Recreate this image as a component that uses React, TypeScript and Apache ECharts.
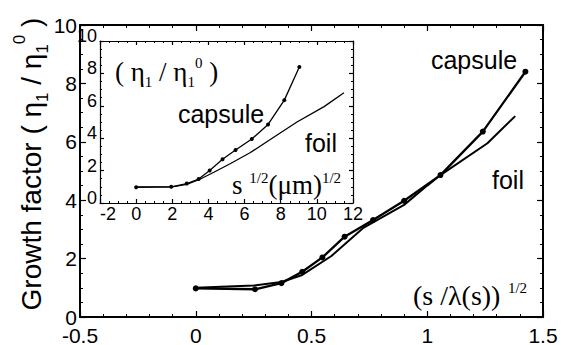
import React, { useEffect, useRef } from "react";
import * as echarts from "echarts";

// ---- data ----
const mainCapsuleX = [0, 0.256, 0.37, 0.46, 0.547, 0.643, 0.766, 0.9, 1.057, 1.24, 1.424];
const mainCapsuleY = [0.98, 0.95, 1.16, 1.55, 2.04, 2.75, 3.32, 3.98, 4.86, 6.35, 8.4];
const mainFoilX = [0, 0.25, 0.37, 0.46, 0.586, 0.722, 0.9, 1.0, 1.057, 1.26, 1.38];
const mainFoilY = [1.0, 1.08, 1.2, 1.44, 2.09, 3.04, 3.84, 4.5, 4.86, 5.95, 6.88];

const insetCapsuleX = [0, 1.94, 2.8, 3.46, 4.07, 4.78, 5.5, 6.4, 7.3, 8.2, 9.03];
const insetCapsuleY = [0.97, 1.0, 1.2, 1.48, 2.0, 2.7, 3.27, 3.95, 4.85, 6.35, 8.4];
const insetFoilX = [0, 2, 2.8, 3.5, 4.3, 5.2, 6.3, 7.4, 8.9, 10.4, 11.5];
const insetFoilY = [1.0, 1.0, 1.15, 1.45, 1.9, 2.42, 3.1, 3.9, 5.0, 5.95, 6.8];

const SANS = '"Liberation Sans", Arial, Helvetica, sans-serif';
const SERIF = '"Liberation Serif", "Times New Roman", serif';

const pairs = (xs: number[], ys: number[]) => xs.map((x, i) => [x, ys[i]]);

function axis(
  gridIndex: number,
  position: string,
  min: number,
  max: number,
  interval: number,
  minorSplit: number,
  showLabel: boolean,
  fontSize: number,
  margin: number,
  tickLen: number,
  minorLen: number,
  lineWidth: number,
  labelExtra: any = {}
): any {
  return {
    type: "value",
    gridIndex,
    position,
    min,
    max,
    interval,
    axisLine: { show: true, onZero: false, lineStyle: { color: "#000", width: lineWidth } },
    axisTick: { show: true, inside: true, length: tickLen, lineStyle: { color: "#000", width: 1.2 } },
    minorTick: { show: true, splitNumber: minorSplit, length: minorLen, lineStyle: { color: "#000", width: 1 } },
    axisLabel: {
      show: showLabel,
      color: "#000",
      fontSize,
      fontFamily: SANS,
      margin,
      showMinLabel: true,
      showMaxLabel: true,
      ...labelExtra,
    },
    splitLine: { show: false },
    minorSplitLine: { show: false },
  };
}

export default function App() {
  const ref = useRef<HTMLDivElement>(null);
  useEffect(() => {
    if (!ref.current) return;
    const chart = echarts.init(ref.current, undefined, { renderer: "svg" });
    const option: any = {
      animation: false,
      backgroundColor: "#fff",
      grid: [
        { left: 80, top: 25, width: 463, height: 292, containLabel: false, outerBoundsMode: "none" },
        { left: 100, top: 41, width: 253, height: 162, containLabel: false, outerBoundsMode: "none" },
      ],
      xAxis: [
        axis(0, "bottom", -0.5, 1.5, 0.5, 5, true, 21, 9, 6, 3, 2, { lineHeight: 18 }),
        axis(0, "top", -0.5, 1.5, 0.5, 5, false, 21, 6, 6, 3, 2),
        axis(1, "bottom", -2, 12, 2, 4, true, 18, 2, 4, 2, 1.2, { lineHeight: 18, alignMinLabel: "left" }),
        axis(1, "top", -2, 12, 2, 4, false, 18, 2, 4, 2, 1.2),
      ],
      yAxis: [
        axis(0, "left", 0, 10, 2, 4, true, 21, 3, 6, 3, 2, { lineHeight: 18 }),
        axis(0, "right", 0, 10, 2, 4, false, 21, 3, 6, 3, 2),
        axis(1, "left", 0, 10, 2, 4, true, 18, 3, 4, 2, 1.2, { lineHeight: 10, verticalAlign: "bottom" }),
        axis(1, "right", 0, 10, 2, 4, false, 18, 3, 4, 2, 1.2),
      ],
      series: [
        {
          type: "line",
          name: "foil",
          xAxisIndex: 0,
          yAxisIndex: 0,
          data: pairs(mainFoilX, mainFoilY),
          symbol: "none",
          lineStyle: { color: "#000", width: 2 },
          z: 2,
        },
        {
          type: "line",
          name: "capsule",
          xAxisIndex: 0,
          yAxisIndex: 0,
          data: pairs(mainCapsuleX, mainCapsuleY),
          symbol: "circle",
          symbolSize: 6,
          showAllSymbol: true,
          itemStyle: { color: "#000" },
          lineStyle: { color: "#000", width: 2.3 },
          z: 3,
        },
        {
          type: "line",
          name: "foil inset",
          xAxisIndex: 2,
          yAxisIndex: 2,
          data: pairs(insetFoilX, insetFoilY),
          symbol: "none",
          lineStyle: { color: "#000", width: 1.3 },
          z: 2,
        },
        {
          type: "line",
          name: "capsule inset",
          xAxisIndex: 2,
          yAxisIndex: 2,
          data: pairs(insetCapsuleX, insetCapsuleY),
          symbol: "circle",
          symbolSize: 4,
          showAllSymbol: true,
          itemStyle: { color: "#000" },
          lineStyle: { color: "#000", width: 1.3 },
          z: 3,
        },
      ],
      graphic: [
        {
          type: "text",
          x: 31,
          y: 164,
          rotation: Math.PI / 2,
          style: {
            text: "{a|Growth factor ( η}{sub|1}{a| / η}{sub|1}{sup|0}{a| )}",
            align: "center",
            verticalAlign: "middle",
            fill: "#000",
            rich: {
              a: { fontSize: 28, fontFamily: SANS, lineHeight: 40, verticalAlign: "middle", fill: "#000" },
              sub: { fontSize: 17, fontFamily: SANS, lineHeight: 40, verticalAlign: "bottom", fill: "#000" },
              sup: { fontSize: 17, fontFamily: SANS, lineHeight: 40, verticalAlign: "top", fill: "#000" },
            },
          },
        },
        {
          type: "text",
          x: 474,
          y: 60,
          style: { text: "capsule", font: `25px ${SANS}`, fill: "#000", align: "center", verticalAlign: "middle" },
        },
        {
          type: "text",
          x: 508,
          y: 180,
          style: { text: "foil", font: `25px ${SANS}`, fill: "#000", align: "center", verticalAlign: "middle" },
        },
        {
          type: "text",
          x: 413,
          y: 295,
          style: {
            text: "{a|(s /λ(s))}{sup|  1/2}",
            align: "left",
            verticalAlign: "middle",
            fill: "#000",
            rich: {
              a: { fontSize: 28, fontFamily: SERIF, lineHeight: 30, verticalAlign: "middle", fill: "#000" },
              sup: { fontSize: 15, fontFamily: SERIF, lineHeight: 30, verticalAlign: "top", fill: "#000" },
            },
          },
        },
        {
          type: "text",
          x: 115,
          y: 72,
          style: {
            text: "{a|( η}{sub|1}{a| / η}{sub|1}{sup|0}{a| )}",
            align: "left",
            verticalAlign: "middle",
            fill: "#000",
            rich: {
              a: { fontSize: 27, fontFamily: SERIF, lineHeight: 34, verticalAlign: "middle", fill: "#000" },
              sub: { fontSize: 15, fontFamily: SERIF, lineHeight: 34, verticalAlign: "bottom", fill: "#000" },
              sup: { fontSize: 15, fontFamily: SERIF, lineHeight: 34, verticalAlign: "top", fill: "#000" },
            },
          },
        },
        {
          type: "text",
          x: 221,
          y: 114,
          style: { text: "capsule", font: `25px ${SANS}`, fill: "#000", align: "center", verticalAlign: "middle" },
        },
        {
          type: "text",
          x: 321,
          y: 143,
          style: { text: "foil", font: `25px ${SANS}`, fill: "#000", align: "center", verticalAlign: "middle" },
        },
        {
          type: "text",
          x: 232,
          y: 185,
          style: {
            text: "{a|s }{sup|1/2}{a|(μm)}{sup|1/2}",
            align: "left",
            verticalAlign: "middle",
            fill: "#000",
            rich: {
              a: { fontSize: 27, fontFamily: SERIF, lineHeight: 30, verticalAlign: "middle", fill: "#000" },
              sup: { fontSize: 15, fontFamily: SERIF, lineHeight: 30, verticalAlign: "top", fill: "#000" },
            },
          },
        },
      ],
    };
    chart.setOption(option);
    return () => chart.dispose();
  }, []);
  return (
    <div
      ref={ref}
      style={{ position: "fixed", left: 0, top: 0, width: 561, height: 345, background: "#fff" }}
    />
  );
}
